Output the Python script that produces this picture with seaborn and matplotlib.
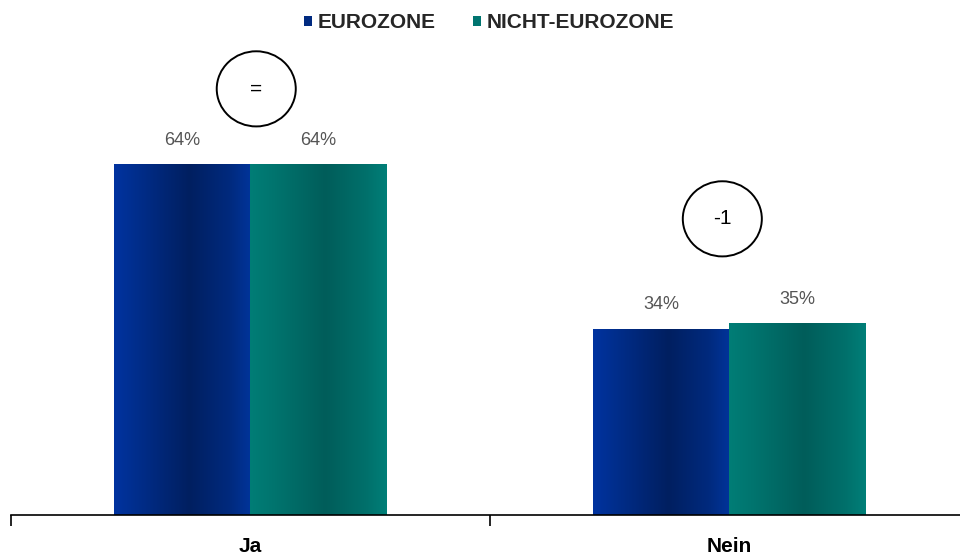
import numpy as np
import pandas as pd
import matplotlib
matplotlib.use("Agg")
import matplotlib.pyplot as plt
from matplotlib.colors import LinearSegmentedColormap
from matplotlib.patches import Ellipse
import seaborn as sns

# Survey answers and shares (%)
categories = ["Ja", "Nein"]
series_names = ["EUROZONE", "NICHT-EUROZONE"]
eurozone = [64, 34]
nicht_eurozone = [64, 35]
changes = ["=", "-1"]

df = pd.DataFrame({
    "Antwort": categories * 2,
    "Gruppe": [series_names[0]] * 2 + [series_names[1]] * 2,
    "Wert": eurozone + nicht_eurozone,
})

sns.set_theme(style="white")
plt.rcParams["font.family"] = ["Liberation Sans", "DejaVu Sans"]

base_colors = {"EUROZONE": "#002a80", "NICHT-EUROZONE": "#007570"}
gradients = {
    "EUROZONE": ["#0033a0", "#002d8a", "#001f60", "#002a7e", "#00349a"],
    "NICHT-EUROZONE": ["#007d76", "#00746e", "#005d5a", "#00706b", "#007f78"],
}
stops = [0.0, 0.18, 0.55, 0.85, 1.0]

fig = plt.figure(figsize=(9.6, 5.57), dpi=100)
# the axes runs a little past the right border so the last boundary tick is cut off
ax = fig.add_axes([11 / 960, 42 / 557, 958 / 960, 1 - 42 / 557])

sns.barplot(data=df, x="Antwort", y="Wert", hue="Gruppe", order=categories,
            hue_order=series_names, palette=base_colors, width=0.568,
            saturation=1, ax=ax, legend=True, linewidth=0)

# horizontal shading inside each bar
grad_row = np.linspace(0, 1, 256).reshape(1, -1)
for container, name in zip(ax.containers, series_names):
    cmap = LinearSegmentedColormap.from_list(name, list(zip(stops, gradients[name])))
    for bar in container:
        x0, w, h = bar.get_x(), bar.get_width(), bar.get_height()
        im = ax.imshow(grad_row, cmap=cmap, aspect="auto",
                       extent=(x0, x0 + w, 0, h), zorder=bar.get_zorder() + 0.1)
        im.set_clip_path(bar)
    ax.bar_label(container, labels=[f"{int(v)}%" for v in container.datavalues],
                 padding=11, fontsize=13, color="#555555")

ax.set_xlim(-0.5, 1.5)
ax.set_ylim(0, 93.9)

# change markers above each answer
tops = [max(a, b) for a, b in zip(eurozone, nicht_eurozone)]
for i, (txt, top) in enumerate(zip(changes, tops)):
    cx = i + (0.012 if i == 0 else -0.015)
    cy = top + (13.7 if i == 0 else 19.0)
    ax.add_patch(Ellipse((cx, cy), 0.165, 13.7, fill=False, edgecolor="black",
                         linewidth=1.4, zorder=5, clip_on=False))
    ax.text(cx, cy, txt, ha="center", va="center", fontsize=15, color="black", zorder=6)

# axis styling
sns.despine(ax=ax, left=True, top=True, right=True)
ax.spines["bottom"].set_color("black")
ax.spines["bottom"].set_linewidth(1.2)
ax.set_yticks([])
ax.set_xlabel("")
ax.set_ylabel("")
ax.set_xticks(range(len(categories)))
ax.set_xticklabels(categories, fontsize=15, fontweight="bold", color="black")
ax.tick_params(axis="x", which="major", length=0, pad=16)
ax.set_xticks([-0.5, 0.5, 1.5], minor=True)
ax.tick_params(axis="x", which="minor", length=8, width=1.2, color="black", direction="out", bottom=True)
ax.grid(False)

leg = ax.get_legend()
handles = leg.legend_handles
leg.remove()
fig.legend(handles, series_names, loc="center", bbox_to_anchor=(489 / 960, 1 - 23 / 557),
           ncol=2, frameon=False, handlelength=0.4, handleheight=0.4, handletextpad=0.25,
           columnspacing=1.8, prop={"weight": "bold", "size": 15})

fig.savefig("out.png", dpi=100)
